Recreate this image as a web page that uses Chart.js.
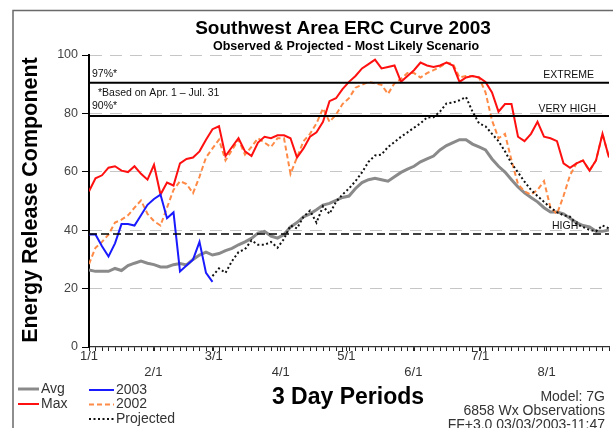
<!DOCTYPE html>
<html>
<head>
<meta charset="utf-8">
<title>Southwest Area ERC Curve 2003</title>
<script src="https://cdn.jsdelivr.net/npm/chart.js@4.4.0/dist/chart.umd.min.js"></script>
<style>
  html, body { margin: 0; padding: 0; background: #fff; }
  canvas { display: block; }
</style>
</head>
<body>
<canvas id="erc" width="613" height="428"></canvas>
<script>
// 3-day periods run from Jan 1 (period 0) to period 80
const monthLabels  = ['1/1', '2/1', '3/1', '4/1', '5/1', '6/1', '7/1', '8/1'];
const monthPeriods = [0, 9.9, 19.2, 29.5, 39.6, 49.9, 60.2, 70.4];

const avgErc = [
  26.4, 25.9, 25.9, 25.9, 26.9, 26.2, 27.9, 28.7, 29.4, 28.7,
  28.2, 27.4, 27.4, 28.2, 28.6, 28.1, 30.0, 31.5, 32.5, 31.5,
  32.0, 33.0, 33.8, 35.0, 36.0, 37.2, 39.0, 39.6, 38.0, 37.3,
  38.5, 41.1, 42.6, 44.6, 45.6, 47.0, 48.6, 49.2, 50.2, 51.2,
  51.7, 54.3, 56.3, 57.3, 57.8, 57.3, 56.8, 58.3, 59.8, 60.9,
  61.9, 63.4, 64.4, 65.4, 67.5, 69.0, 70.0, 71.0, 71.0, 69.5,
  68.5, 67.5, 64.4, 61.9, 59.9, 57.3, 54.8, 52.8, 51.2, 49.7,
  47.7, 46.2, 46.2, 45.6, 44.1, 42.6, 41.6, 41.1, 39.6, 39.6,
  40.1
];

const maxErc = [
  53.3, 57.8, 58.8, 61.4, 61.9, 60.4, 59.9, 61.9, 59.3, 57.3,
  62.4, 52.2, 56.3, 55.3, 62.9, 64.4, 64.9, 67.0, 71.0, 74.6,
  75.6, 65.4, 68.5, 71.5, 67.0, 65.4, 70.0, 72.0, 71.5, 72.5,
  72.5, 71.5, 64.9, 68.0, 72.0, 73.5, 77.1, 84.2, 85.2, 88.3,
  90.8, 92.8, 95.4, 96.9, 98.4, 95.4, 95.9, 96.4, 90.8, 92.8,
  94.8, 97.4, 96.4, 95.9, 96.4, 97.4, 96.4, 90.8, 92.3, 92.8,
  92.3, 90.8, 87.2, 80.6, 83.2, 83.2, 72.0, 70.5, 73.0, 77.1,
  72.0, 71.5, 70.5, 62.9, 61.4, 62.9, 63.9, 60.4, 63.9, 73.0,
  64.9
];

const erc2003 = [
  38.5, 38.5, 34.5, 31.0, 35.5, 42.1, 42.1, 41.6, 45.1, 48.7,
  50.7, 52.2, 44.1, 46.1, 25.9, 27.9, 29.9, 36.0, 25.4, 22.3
];

const erc2002 = [
  28.4, 34.0, 36.0, 38.5, 42.6, 43.6, 45.1, 47.7, 50.2, 45.6,
  43.1, 41.6, 47.7, 53.8, 56.8, 55.8, 52.7, 58.3, 64.9, 68.0,
  71.0, 63.9, 67.5, 71.0, 65.9, 68.5, 71.5, 70.0, 68.5, 71.5,
  71.5, 59.3, 64.9, 70.5, 73.0, 76.6, 81.7, 77.1, 79.6, 83.2,
  85.2, 88.8, 89.8, 90.8, 90.3, 89.8, 86.7, 90.3, 91.8, 93.8,
  93.8, 92.3, 93.8, 94.8, 95.9, 97.4, 96.9, 92.3, 92.8, 92.8,
  92.3, 87.2, 77.6, 71.5, 73.0, 63.9, 55.8, 53.3, 52.2, 53.8,
  56.8, 47.7, 45.6, 51.7, 58.8, 62.9, 63.9, 60.4, 63.9, 73.0,
  64.9
];

// projection starts where the 2003 observations stop
const projectedErc = [
  null, null, null, null, null, null, null, null, null, null,
  null, null, null, null, null, null, null, null, null, 24.3,
  26.9, 25.4, 29.4, 32.5, 33.5, 36.5, 35.0, 35.0, 36.0, 34.0,
  37.0, 41.6, 40.6, 44.6, 46.7, 42.6, 48.2, 45.6, 49.7, 52.2,
  54.3, 56.8, 59.8, 63.4, 65.6, 65.9, 68.5, 70.2, 72.0, 73.5,
  75.1, 76.6, 78.6, 78.7, 80.6, 83.4, 83.7, 84.5, 85.6, 80.6,
  76.6, 75.6, 73.0, 70.5, 67.0, 62.9, 59.8, 56.6, 53.8, 51.7,
  49.7, 47.7, 46.2, 45.1, 44.6, 42.1, 41.1, 40.1, 39.6, 41.6,
  40.6
];

// fire danger breakpoints: 97th percentile, 90th percentile, high
const thresholdValues = [90.5, 79.1, 38.7];
const thresholdNames  = ['EXTREME', 'VERY HIGH', 'HIGH'];
const percentileNames = ['97%*', '90%*'];
const basisNote = '*Based on Apr. 1 \u2013 Jul. 31';
const infoLines = ['Model: 7G', '6858 Wx Observations', 'FF+3.0 03/03/2003-11:47'];

const FONT = "'Liberation Sans', Arial, Helvetica, sans-serif";
Chart.defaults.font.family = FONT;

function toPoints(values) {
  const pts = [];
  values.forEach((v, i) => { if (v !== null) pts.push({ x: i, y: v }); });
  return pts;
}

function series(label, values, color, width, dash, order) {
  return {
    label, data: toPoints(values),
    borderColor: color, backgroundColor: color,
    borderWidth: width, borderDash: dash,
    pointRadius: 0, pointHoverRadius: 0, tension: 0, fill: false, order
  };
}

function rule(value, dash, width) {
  return {
    label: '', data: [{ x: 0, y: value }, { x: 80, y: value }],
    borderColor: '#000', borderWidth: width, borderDash: dash,
    pointRadius: 0, tension: 0, fill: false, order: 0, isRule: true
  };
}

const datasets = [
  series('Avg', avgErc, '#8a8a8a', 3, [], 6),
  series('Max', maxErc, '#ff1010', 2, [], 4),
  series('2003', erc2003, '#1a1aff', 2, [], 3),
  series('2002', erc2002, '#ff8a45', 2, [5, 3], 5),
  series('Projected', projectedErc, '#111', 2, [2, 2.5], 2),
  rule(thresholdValues[0], [], 2),
  rule(thresholdValues[1], [], 2),
  rule(thresholdValues[2], [8, 4], 1.3)
];

// text, legend and frame around the plot
const decorations = {
  id: 'decorations',
  beforeDraw(chart) {
    const c = chart.ctx;
    c.save();
    c.fillStyle = '#fff';
    c.fillRect(0, 0, chart.width, chart.height);
    c.restore();
  },
  afterDraw(chart) {
    const c = chart.ctx;
    const ys = chart.scales.y;
    c.save();

    // outer frame
    c.strokeStyle = '#6a6a6a';
    c.lineWidth = 1.5;
    c.beginPath();
    c.moveTo(13, 428); c.lineTo(13, 10.5); c.lineTo(613, 10.5);
    c.stroke();

    // titles
    c.fillStyle = '#000';
    c.textAlign = 'center';
    c.textBaseline = 'middle';
    c.font = `bold 19px ${FONT}`;
    c.fillText('Southwest Area ERC Curve 2003', 343, 29);
    c.font = `bold 12.5px ${FONT}`;
    c.fillText('Observed & Projected - Most Likely Scenario', 346, 47);

    c.save();
    c.translate(31, 200);
    c.rotate(-Math.PI / 2);
    c.font = `bold 21.5px ${FONT}`;
    c.fillText('Energy Release Component', 0, 0);
    c.restore();

    c.font = `bold 23px ${FONT}`;
    c.fillText('3 Day Periods', 348, 398);

    // breakpoint labels
    const yEx = ys.getPixelForValue(thresholdValues[0]);
    const yVh = ys.getPixelForValue(thresholdValues[1]);
    const yHi = ys.getPixelForValue(thresholdValues[2]);
    c.fillStyle = '#111';
    c.font = `10.5px ${FONT}`;
    c.textAlign = 'right';
    c.fillText(thresholdNames[0], 594, yEx - 8);
    c.fillText(thresholdNames[1], 596, yVh - 7);
    c.textAlign = 'left';
    c.fillText(thresholdNames[2], 552, yHi - 8);
    c.fillText(percentileNames[0], 92, yEx - 9);
    c.fillText(percentileNames[1], 92, yVh - 10);
    c.fillText(basisNote, 98, yEx + 10);

    // legend: two columns
    const slots = [[18, 39, 389], [18, 39, 404], [89, 114, 390], [89, 114, 404.5], [89, 114, 419]];
    c.font = `14px ${FONT}`;
    c.fillStyle = '#333';
    chart.data.datasets.forEach((ds, i) => {
      if (ds.isRule || !slots[i]) return;
      const [x0, x1, y] = slots[i];
      c.save();
      c.strokeStyle = ds.borderColor;
      c.lineWidth = ds.borderWidth;
      c.setLineDash(ds.borderDash);
      c.beginPath();
      c.moveTo(x0, y); c.lineTo(x1, y);
      c.stroke();
      c.restore();
      c.textAlign = 'left';
      c.fillText(ds.label, x1 + 2, y);
    });

    // run information
    c.textAlign = 'right';
    c.font = `14px ${FONT}`;
    c.fillText(infoLines[0], 605, 397);
    c.fillText(infoLines[1], 605, 411);
    c.fillText(infoLines[2], 605, 425);

    c.restore();
  }
};

function sameTick(a, b) { return Math.abs(a - b) < 1e-6; }

new Chart(document.getElementById('erc'), {
  type: 'line',
  data: { datasets },
  options: {
    responsive: false,
    animation: false,
    events: [],
    layout: { padding: { top: 55, right: 4, left: 0, bottom: 0 } },
    plugins: { legend: { display: false }, title: { display: false }, tooltip: { enabled: false } },
    scales: {
      x: {
        type: 'linear', min: 0, max: 80,
        afterFit(scale) { scale.height = 81; },
        afterBuildTicks(scale) {
          const vals = [];
          for (let p = 0; p <= 80; p++) vals.push(p);
          monthPeriods.forEach(m => { if (!vals.some(v => sameTick(v, m))) vals.push(m); });
          vals.sort((a, b) => a - b);
          scale.ticks = vals.map(v => ({ value: v }));
        },
        ticks: {
          autoSkip: false, maxRotation: 0, minRotation: 0, padding: -3,
          color: '#333',
          font: { size: 13, lineHeight: 1.23 },
          callback(v) {
            const i = monthPeriods.findIndex(m => sameTick(m, v));
            if (i < 0) return '';
            return i % 2 ? ['', monthLabels[i]] : monthLabels[i];
          }
        },
        grid: { drawOnChartArea: false, drawTicks: true, tickLength: 4, tickColor: '#222', tickWidth: 1 },
        border: { display: true, color: '#333', width: 1.2 }
      },
      y: {
        min: 0, max: 100,
        afterFit(scale) { scale.width = 89; },
        ticks: { stepSize: 20, padding: 4, color: '#444', font: { size: 12.5 } },
        grid: {
          color: (ctx) => (ctx.tick && ctx.tick.value === 0 ? 'rgba(0,0,0,0)' : '#c6c6c6'),
          lineWidth: 1, tickLength: 7, tickColor: '#000', tickWidth: 1
        },
        border: { display: true, color: '#000', width: 2, dash: [12, 8] }
      }
    }
  },
  plugins: [decorations]
});
</script>
</body>
</html>
